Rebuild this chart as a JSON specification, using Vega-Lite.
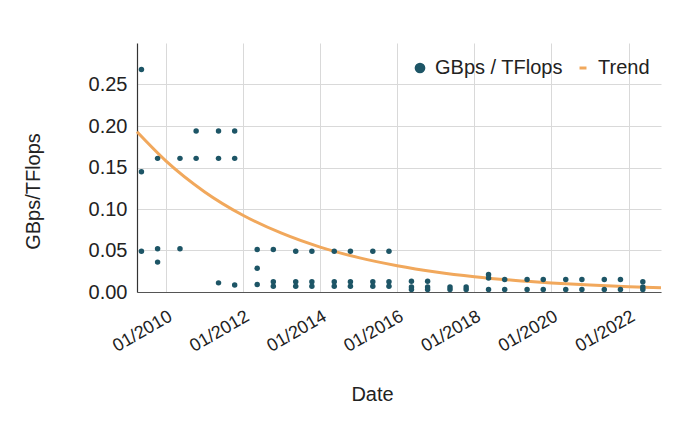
{
  "$schema": "https://vega.github.io/schema/vega-lite/v6.json",
  "width": 524,
  "height": 249,
  "autosize": {"type": "none"},
  "padding": {"left": 137, "top": 43, "right": 19, "bottom": 130},
  "background": "white",
  "config": {
    "font": "Liberation Sans",
    "view": {"stroke": null},
    "axis": {
      "gridColor": "#d9d9d9",
      "gridWidth": 1,
      "domainColor": "#333333",
      "domainWidth": 1.2,
      "ticks": false,
      "labelColor": "#222222",
      "titleColor": "#222222",
      "labelFontSize": 20,
      "titleFontSize": 20,
      "titleFontWeight": "normal",
      "labelFont": "Liberation Sans",
      "titleFont": "Liberation Sans"
    },
    "legend": {"labelFont": "Liberation Sans"}
  },
  "datasets": {
    "points": [
      {"date": "2009-05-15", "value": 0.268, "series": "GBps / TFlops"},
      {"date": "2009-05-15", "value": 0.145, "series": "GBps / TFlops"},
      {"date": "2009-05-15", "value": 0.049, "series": "GBps / TFlops"},
      {"date": "2009-10-15", "value": 0.161, "series": "GBps / TFlops"},
      {"date": "2009-10-15", "value": 0.052, "series": "GBps / TFlops"},
      {"date": "2009-10-15", "value": 0.036, "series": "GBps / TFlops"},
      {"date": "2010-05-15", "value": 0.161, "series": "GBps / TFlops"},
      {"date": "2010-05-15", "value": 0.052, "series": "GBps / TFlops"},
      {"date": "2010-10-15", "value": 0.194, "series": "GBps / TFlops"},
      {"date": "2010-10-15", "value": 0.161, "series": "GBps / TFlops"},
      {"date": "2011-05-15", "value": 0.194, "series": "GBps / TFlops"},
      {"date": "2011-05-15", "value": 0.161, "series": "GBps / TFlops"},
      {"date": "2011-05-15", "value": 0.011, "series": "GBps / TFlops"},
      {"date": "2011-10-15", "value": 0.194, "series": "GBps / TFlops"},
      {"date": "2011-10-15", "value": 0.161, "series": "GBps / TFlops"},
      {"date": "2011-10-15", "value": 0.0085, "series": "GBps / TFlops"},
      {"date": "2012-05-15", "value": 0.0513, "series": "GBps / TFlops"},
      {"date": "2012-05-15", "value": 0.0285, "series": "GBps / TFlops"},
      {"date": "2012-05-15", "value": 0.009, "series": "GBps / TFlops"},
      {"date": "2012-10-15", "value": 0.0513, "series": "GBps / TFlops"},
      {"date": "2012-10-15", "value": 0.0125, "series": "GBps / TFlops"},
      {"date": "2012-10-15", "value": 0.007, "series": "GBps / TFlops"},
      {"date": "2013-05-15", "value": 0.049, "series": "GBps / TFlops"},
      {"date": "2013-05-15", "value": 0.0125, "series": "GBps / TFlops"},
      {"date": "2013-05-15", "value": 0.007, "series": "GBps / TFlops"},
      {"date": "2013-10-15", "value": 0.049, "series": "GBps / TFlops"},
      {"date": "2013-10-15", "value": 0.0125, "series": "GBps / TFlops"},
      {"date": "2013-10-15", "value": 0.007, "series": "GBps / TFlops"},
      {"date": "2014-05-15", "value": 0.049, "series": "GBps / TFlops"},
      {"date": "2014-05-15", "value": 0.0125, "series": "GBps / TFlops"},
      {"date": "2014-05-15", "value": 0.007, "series": "GBps / TFlops"},
      {"date": "2014-10-15", "value": 0.049, "series": "GBps / TFlops"},
      {"date": "2014-10-15", "value": 0.0125, "series": "GBps / TFlops"},
      {"date": "2014-10-15", "value": 0.007, "series": "GBps / TFlops"},
      {"date": "2015-05-15", "value": 0.049, "series": "GBps / TFlops"},
      {"date": "2015-05-15", "value": 0.0125, "series": "GBps / TFlops"},
      {"date": "2015-05-15", "value": 0.007, "series": "GBps / TFlops"},
      {"date": "2015-10-15", "value": 0.049, "series": "GBps / TFlops"},
      {"date": "2015-10-15", "value": 0.0125, "series": "GBps / TFlops"},
      {"date": "2015-10-15", "value": 0.007, "series": "GBps / TFlops"},
      {"date": "2016-05-15", "value": 0.013, "series": "GBps / TFlops"},
      {"date": "2016-05-15", "value": 0.006, "series": "GBps / TFlops"},
      {"date": "2016-05-15", "value": 0.003, "series": "GBps / TFlops"},
      {"date": "2016-10-15", "value": 0.013, "series": "GBps / TFlops"},
      {"date": "2016-10-15", "value": 0.006, "series": "GBps / TFlops"},
      {"date": "2016-10-15", "value": 0.003, "series": "GBps / TFlops"},
      {"date": "2017-05-15", "value": 0.006, "series": "GBps / TFlops"},
      {"date": "2017-05-15", "value": 0.003, "series": "GBps / TFlops"},
      {"date": "2017-10-15", "value": 0.006, "series": "GBps / TFlops"},
      {"date": "2017-10-15", "value": 0.003, "series": "GBps / TFlops"},
      {"date": "2018-05-15", "value": 0.021, "series": "GBps / TFlops"},
      {"date": "2018-05-15", "value": 0.017, "series": "GBps / TFlops"},
      {"date": "2018-05-15", "value": 0.003, "series": "GBps / TFlops"},
      {"date": "2018-10-15", "value": 0.015, "series": "GBps / TFlops"},
      {"date": "2018-10-15", "value": 0.003, "series": "GBps / TFlops"},
      {"date": "2019-05-15", "value": 0.015, "series": "GBps / TFlops"},
      {"date": "2019-05-15", "value": 0.003, "series": "GBps / TFlops"},
      {"date": "2019-10-15", "value": 0.015, "series": "GBps / TFlops"},
      {"date": "2019-10-15", "value": 0.003, "series": "GBps / TFlops"},
      {"date": "2020-05-15", "value": 0.015, "series": "GBps / TFlops"},
      {"date": "2020-05-15", "value": 0.003, "series": "GBps / TFlops"},
      {"date": "2020-10-15", "value": 0.015, "series": "GBps / TFlops"},
      {"date": "2020-10-15", "value": 0.003, "series": "GBps / TFlops"},
      {"date": "2021-05-15", "value": 0.015, "series": "GBps / TFlops"},
      {"date": "2021-05-15", "value": 0.003, "series": "GBps / TFlops"},
      {"date": "2021-10-15", "value": 0.015, "series": "GBps / TFlops"},
      {"date": "2021-10-15", "value": 0.003, "series": "GBps / TFlops"},
      {"date": "2022-05-15", "value": 0.0125, "series": "GBps / TFlops"},
      {"date": "2022-05-15", "value": 0.006, "series": "GBps / TFlops"},
      {"date": "2022-05-15", "value": 0.003, "series": "GBps / TFlops"}
    ],
    "trend": [
      {"date": "2009-04-03", "value": 0.193, "series": "Trend"},
      {"date": "2010-01-01", "value": 0.158, "series": "Trend"},
      {"date": "2011-01-01", "value": 0.1209, "series": "Trend"},
      {"date": "2012-01-01", "value": 0.0925, "series": "Trend"},
      {"date": "2013-01-01", "value": 0.0708, "series": "Trend"},
      {"date": "2014-01-01", "value": 0.0541, "series": "Trend"},
      {"date": "2015-01-01", "value": 0.0414, "series": "Trend"},
      {"date": "2016-01-01", "value": 0.0317, "series": "Trend"},
      {"date": "2017-01-01", "value": 0.0242, "series": "Trend"},
      {"date": "2018-01-01", "value": 0.0185, "series": "Trend"},
      {"date": "2019-01-01", "value": 0.0142, "series": "Trend"},
      {"date": "2020-01-01", "value": 0.0109, "series": "Trend"},
      {"date": "2021-01-01", "value": 0.0083, "series": "Trend"},
      {"date": "2022-01-01", "value": 0.0063, "series": "Trend"},
      {"date": "2022-11-03", "value": 0.005, "series": "Trend"}
    ]
  },
  "encoding": {
    "x": {
      "field": "date",
      "type": "temporal",
      "scale": {"domain": ["2009-04-03", "2022-11-03"]},
      "axis": {
        "title": "Date",
        "values": [
          {"year": 2010, "month": 1, "date": 1},
          {"year": 2012, "month": 1, "date": 1},
          {"year": 2014, "month": 1, "date": 1},
          {"year": 2016, "month": 1, "date": 1},
          {"year": 2018, "month": 1, "date": 1},
          {"year": 2020, "month": 1, "date": 1},
          {"year": 2022, "month": 1, "date": 1}
        ],
        "format": "%m/%Y",
        "labelAngle": -30,
        "labelAlign": "right",
        "labelBaseline": "top",
        "labelPadding": 15,
        "labelFontSize": 18,
        "titleX": 235,
        "titleY": 92,
        "titleBaseline": "top",
        "domainColor": "#555555"
      }
    },
    "y": {
      "field": "value",
      "type": "quantitative",
      "scale": {"domain": [0, 0.3], "nice": false},
      "axis": {
        "title": "GBps/TFlops",
        "values": [0, 0.05, 0.1, 0.15, 0.2, 0.25],
        "format": ".2f",
        "labelPadding": 10,
        "titleX": -94,
        "titleY": 148,
        "titleBaseline": "bottom"
      }
    },
    "color": {
      "field": "series",
      "type": "nominal",
      "scale": {"domain": ["GBps / TFlops", "Trend"], "range": ["#1d5566", "#f1a85c"]},
      "legend": {
        "orient": "none",
        "legendX": 273,
        "legendY": 15,
        "direction": "horizontal",
        "title": null,
        "labelFontSize": 20,
        "labelColor": "#222222",
        "symbolSize": 115,
        "symbolOpacity": 1,
        "symbolStrokeWidth": 0,
        "columnPadding": 10,
        "labelOffset": 5
      }
    }
  },
  "layer": [
    {
      "data": {"name": "trend"},
      "mark": {"type": "line", "strokeWidth": 3, "interpolate": "monotone"}
    },
    {
      "data": {"name": "points"},
      "mark": {"type": "point", "filled": true, "opacity": 1, "size": 30},
      "encoding": {
        "shape": {
          "field": "series",
          "type": "nominal",
          "scale": {"domain": ["GBps / TFlops", "Trend"], "range": ["circle", "M-0.65,-0.28H0.65V0.28H-0.65Z"]},
          "legend": {
            "orient": "none",
            "legendX": 273,
            "legendY": 15,
            "direction": "horizontal",
            "title": null,
            "labelFontSize": 20,
            "labelColor": "#222222",
            "symbolSize": 115,
            "symbolOpacity": 1,
            "symbolStrokeWidth": 0,
            "columnPadding": 10,
            "labelOffset": 5
          }
        }
      }
    }
  ]
}
